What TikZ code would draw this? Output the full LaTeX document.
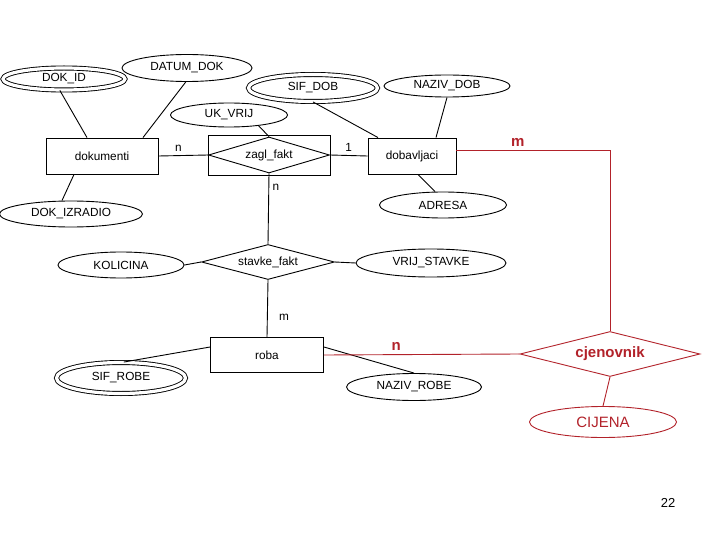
\documentclass[tikz,border=0pt]{standalone}
\usepackage{fontspec}
\setmainfont{Liberation Sans}
\usepackage{tikz}
\usetikzlibrary{shapes}

\definecolor{erred}{RGB}{178,34,42}

\begin{document}
\begin{tikzpicture}[x=1pt, y=-1pt, line width=0.9pt]
		\tikzstyle{entity}=[rectangle, draw, minimum height=36pt]
		\tikzstyle{attr}=[ellipse, draw, inner sep=0pt]
		\tikzstyle{keyattr}=[attr, double, double distance=3.2pt]
		\tikzstyle{rel}=[diamond, draw, aspect=3.4, inner sep=0pt]
		\tikzstyle{every node}=[font=\fontsize{11.8}{14}\selectfont]
		\tikzstyle{red bold}=[text=erred, font=\fontsize{15}{17}\selectfont\bfseries]

		\useasboundingbox (0,0) rectangle (720,540);

		% entiteti
		\node[entity, minimum width=112pt] (dokumenti) at (102,156) {dokumenti};
		\node[entity, minimum width=88pt] (dobavljaci) at (412,156) {dobavljaci};
		\node[entity, minimum width=113pt, minimum height=35pt] (roba) at (267,355) {roba};

		% veze
		\node[rel, minimum width=121pt, minimum height=36pt] (zagl) at (269,155) {zagl\_fakt};
		\draw ([yshift=20pt]zagl.west) rectangle ([yshift=-20pt]zagl.east);
		\node[rel, minimum width=133pt, minimum height=35pt] (stavke) at (268,262) {stavke\_fakt};
		\node[rel, draw=erred, red bold, minimum width=180pt, minimum height=45pt] (cjenovnik) at (610,354) {cjenovnik};

		% atributi
		\node[keyattr, minimum width=122pt, minimum height=22pt] (dokid) at (64,79) {DOK\_ID};
		\node[attr, minimum width=130pt, minimum height=27pt] (datumdok) at (187,68) {DATUM\_DOK};
		\node[keyattr, minimum width=129pt, minimum height=27pt] (sifdob) at (313,88) {SIF\_DOB};
		\node[attr, minimum width=126pt, minimum height=22pt] (nazivdob) at (447,86) {NAZIV\_DOB};
		\node[attr, minimum width=117pt, minimum height=24pt] (ukvrij) at (229,115) {UK\_VRIJ};
		\node[attr, minimum width=143pt, minimum height=26pt] (dokizradio) at (71,214) {DOK\_IZRADIO};
		\node[attr, minimum width=127pt, minimum height=26pt] (adresa) at (443,205) {ADRESA};
		\node[attr, minimum width=126pt, minimum height=26pt] (kolicina) at (121,265) {KOLICINA};
		\node[attr, minimum width=150pt, minimum height=28pt] (vrijstavke) at (431,263) {VRIJ\_STAVKE};
		\node[keyattr, minimum width=129pt, minimum height=31pt] (sifrobe) at (121,378) {SIF\_ROBE};
		\node[attr, minimum width=135pt, minimum height=27pt] (nazivrobe) at (414,387) {NAZIV\_ROBE};
		\node[attr, draw=erred, text=erred, font=\fontsize{15}{17}\selectfont, minimum width=147pt, minimum height=31pt] (cijena) at (603,422) {CIJENA};

		\node (strana) at (668,503) {\fontsize{13}{15}\selectfont 22};

		\draw (dokid.250) -- ([xshift=-15pt]dokumenti.north);
		\draw (datumdok.265) -- ([xshift=41pt]dokumenti.north);
		\draw ([xshift=-28pt]dokumenti.south) -- ([xshift=-9pt]dokizradio.north);
		\draw (sifdob.south) -- ([xshift=-34pt]dobavljaci.north);
		\draw (nazivdob.south) -- ([xshift=24pt]dobavljaci.north);
		\draw ([xshift=6pt]dobavljaci.south) -- ([xshift=-8pt]adresa.north);
		\draw (ukvrij.-20) -- (zagl.north);

		\draw (dokumenti.east) -- node[above, pos=0.4] {n} (zagl.west);
		\draw (zagl.east) -- node[above] {1} (dobavljaci.west);
		\draw (zagl.south) -- node[right, pos=0.2] {n} (stavke.north);
		\draw (kolicina.east) -- (stavke.west);
		\draw (stavke.east) -- (vrijstavke.west);
		\draw (stavke.south) -- node[right, pos=0.66, xshift=8pt] {m} (roba.north);
		\draw ([yshift=8pt]roba.west) -- (sifrobe.80);
		\draw ([yshift=8pt]roba.east) -- (nazivrobe.north);

		\draw[erred] ([yshift=6pt]dobavljaci.east) -| node[above, red bold, pos=0.2] {m} (cjenovnik.north);
		\draw[erred] (roba.east) -- node[above, red bold, pos=0.37] {n} (cjenovnik.west);
		\draw[erred] (cjenovnik.south) -- (cijena.north);

	\end{tikzpicture}
\end{document}
